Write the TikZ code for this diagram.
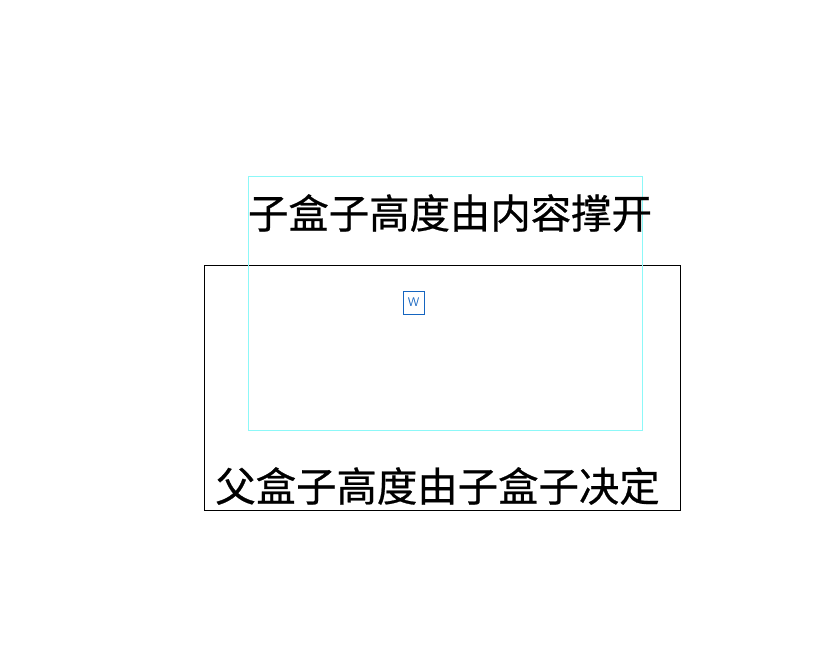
\documentclass[tikz,border=0pt]{standalone}
\usepackage{fontspec}
\usepackage{xcolor}
\usepackage{tikz}
\usetikzlibrary{positioning}
\newfontfamily\cjk[FakeBold=0.6]{Noto Sans CJK SC}
\definecolor{childcyan}{RGB}{140,248,248}
\definecolor{wblue}{RGB}{21,101,192}

\begin{document}
\begin{tikzpicture}[x=1pt,y=-1pt,
        parentbox/.style={draw=black, line width=0.9pt, minimum width=476pt, minimum height=245pt, inner sep=0pt},
        childbox/.style={draw=childcyan, line width=1pt, minimum width=394pt, minimum height=254pt, inner sep=0pt},
        wbox/.style={draw=wblue, text=wblue, line width=0.8pt, minimum width=21pt, minimum height=23pt, inner sep=0pt, font=\sffamily\fontsize{12.5}{12.5}\selectfont},
        bigtext/.style={font=\cjk\fontsize{40.4}{40.4}\selectfont, text=black, inner sep=0pt}]
        \useasboundingbox (0,0) rectangle (816,662);
        % outer box
        \node[parentbox] (parent) at (442,387.5) {};
        % inner box
        \node[childbox] (child) at (445,303) {};
        \node[bigtext] (childtext) at (450,213) {子盒子高度由内容撑开};
        \node[wbox] (w) at (413.5,302.5) {W};
        \node[bigtext] (parenttext) at (437.5,486) {父盒子高度由子盒子决定};
    \end{tikzpicture}
\end{document}
